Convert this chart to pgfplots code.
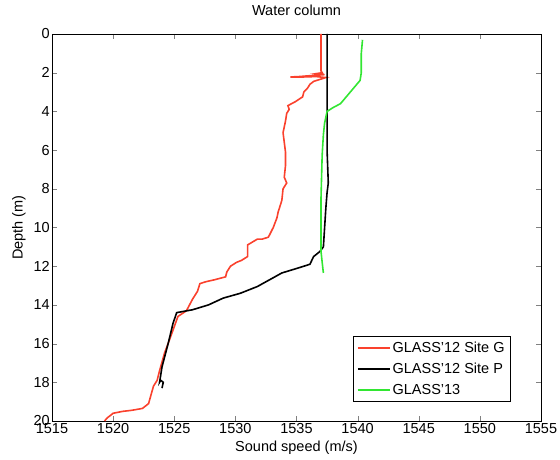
\documentclass[border=0pt]{standalone}
\usepackage{pgfplots}
\pgfplotsset{compat=1.18}
\usepackage{fontspec}
\setmainfont{Liberation Sans}
\definecolor{cred}{RGB}{250,65,45}
\definecolor{cgreen}{RGB}{50,230,50}
\begin{document}
\begin{tikzpicture}
\useasboundingbox (-52pt,-39pt) rectangle (508pt,421pt);
\begin{axis}[
  at={(0pt,0pt)}, anchor=south west,
  scale only axis, width=489pt, height=387pt,
  xmin=1515, xmax=1555, ymin=0, ymax=20, y dir=reverse,
  xtick={1515,1520,...,1555}, ytick={0,2,...,20},
  tick align=inside, major tick length=5pt,
  /pgf/number format/assume math mode=true,
  /pgf/number format/set thousands separator={},
  tick label style={font=\fontsize{14.5}{16}\selectfont},
  xticklabel style={inner sep=2pt},
  yticklabel style={inner sep=2pt},
  title={Water column},
  title style={font=\fontsize{14.5}{16}\selectfont, at={(axis description cs:0.5,1)}, anchor=center, yshift=18pt},
  xlabel={Sound speed (m/s)}, ylabel={Depth (m)},
  xlabel style={font=\fontsize{14.5}{16}\selectfont, at={(axis description cs:0.5,0)}, anchor=center, yshift=-27pt},
  ylabel style={font=\fontsize{14.5}{16}\selectfont, at={(axis description cs:0,0.5)}, anchor=center, rotate=0, yshift=33pt},
  axis line style={line width=0.8pt},
  legend style={at={(1,0)}, anchor=south east, xshift=-30pt, yshift=19pt,
    font=\fontsize{14.5}{16}\selectfont, draw=black, line width=0.8pt,
    row sep=5pt, inner xsep=4pt, inner ysep=4pt},
  legend cell align=left,
  legend image code/.code={\draw[mark repeat=2,mark phase=2,#1] plot coordinates {(0pt,0pt) (16pt,0pt) (32pt,0pt)};},
]
\addplot[cred, line width=1.6pt] coordinates {
(1537.0,0) (1537.0,1.0) (1537.0,1.9) (1537.1,2.0) (1536.6,2.05) (1537.3,2.1)
(1536.2,2.15) (1535.2,2.2) (1534.5,2.22) (1535.6,2.22) (1536.6,2.2) (1537.4,2.25)
(1536.9,2.35) (1536.4,2.45) (1536.1,2.6) (1535.9,2.8) (1535.6,3.0) (1535.5,3.25)
(1534.9,3.5) (1534.3,3.7) (1534.4,3.9) (1534.2,4.1) (1534.1,4.5) (1533.9,5.1)
(1534.0,5.6) (1534.1,6.1) (1534.1,6.8) (1534.0,7.4) (1534.2,7.7) (1533.9,8.0)
(1533.8,8.6) (1533.5,9.2) (1533.4,9.5) (1533.1,10.0) (1532.7,10.5) (1532.2,10.6)
(1531.8,10.6) (1531.0,10.9) (1531.0,11.1) (1531.0,11.5) (1530.5,11.7) (1530.1,11.8)
(1529.6,12.0) (1529.3,12.3) (1529.2,12.55) (1528.3,12.7) (1527.6,12.8) (1527.1,12.9)
(1526.9,13.3) (1526.5,13.7) (1526.0,14.3) (1525.3,14.6) (1525.1,14.95) (1524.7,15.65)
(1524.2,16.5) (1523.8,17.4) (1523.6,17.9) (1523.3,18.2) (1522.9,19.1) (1522.4,19.35)
(1521.5,19.45) (1520.8,19.5) (1520.0,19.6) (1519.5,19.85) (1519.3,20.0)
};
\addlegendentry{GLASS'12 Site G}
\addplot[black, line width=1.6pt] coordinates {
(1537.5,0) (1537.5,4) (1537.5,6) (1537.6,7.7) (1537.5,8.2) (1537.4,9)
(1537.3,10) (1537.2,11.0) (1536.9,11.25) (1536.4,11.5) (1536.1,11.9) (1535.1,12.1)
(1533.8,12.35) (1532.8,12.7) (1531.8,13.05) (1530.4,13.4) (1529.0,13.65) (1527.8,14.0)
(1526.5,14.25) (1525.2,14.4) (1524.9,14.95) (1524.5,16.0) (1524.0,17.2) (1523.8,18.0)
(1523.9,17.9) (1524.1,18.0) (1524.0,18.3)
};
\addlegendentry{GLASS'12 Site P}
\addplot[cgreen, line width=1.6pt] coordinates {
(1540.4,0.3) (1540.3,1.0) (1540.3,2.0) (1540.2,2.4) (1539.8,2.7) (1539.4,3.0)
(1538.6,3.6) (1538.0,3.8) (1537.5,4.0) (1537.3,4.6) (1537.2,5.2) (1537.1,6.25)
(1537.0,8.6) (1537.0,11.2) (1537.1,11.8) (1537.2,12.35)
};
\addlegendentry{GLASS'13}
\end{axis}
\end{tikzpicture}
\end{document}
